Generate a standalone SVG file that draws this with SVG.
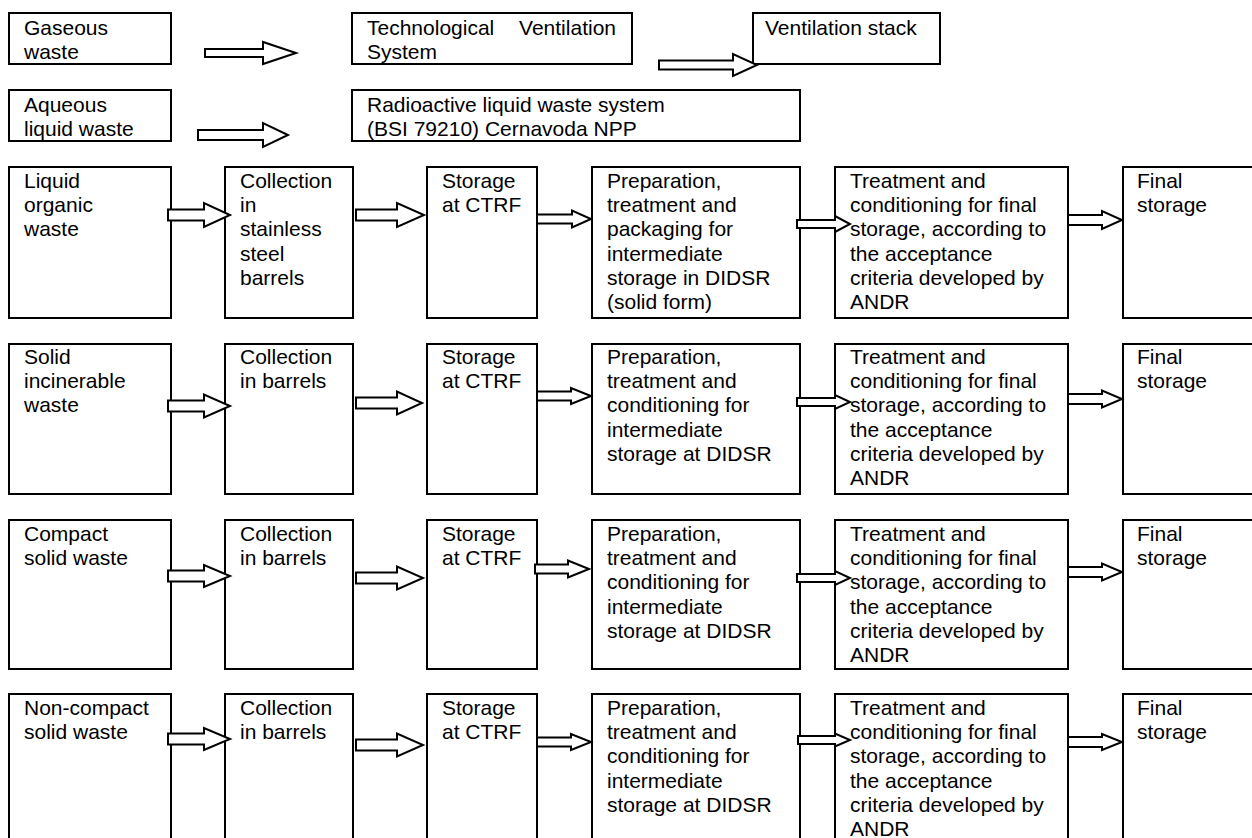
<svg xmlns="http://www.w3.org/2000/svg" width="1252" height="838" viewBox="0 0 1252 838">
<style>
.box{fill:#fff;stroke:#000;stroke-width:2}
.t{font-family:"Liberation Sans",Arial,sans-serif;font-size:21px;fill:#000}
.arr{fill:#fff;stroke:#000;stroke-width:2;stroke-linejoin:miter}
</style>
<rect width="1252" height="838" fill="#fff"/>
<g id="gaseous"><rect class="box" x="9" y="13" width="162" height="51"/><text class="t" x="24" y="35">Gaseous<tspan x="24" dy="24">waste</tspan></text></g>
<g id="tvs"><rect class="box" x="352" y="13" width="280" height="51"/><text class="t" x="367" y="35">Technological</text><text class="t" x="616" y="35" text-anchor="end">Ventilation</text><text class="t" x="367" y="59">System</text></g>
<g id="stack"><rect class="box" x="753" y="13" width="187" height="51"/><text class="t" x="765" y="35">Ventilation stack</text></g>
<g id="aqueous"><rect class="box" x="9" y="90" width="162" height="51"/><text class="t" x="24" y="112">Aqueous<tspan x="24" dy="24">liquid waste</tspan></text></g>
<g id="rlws"><rect class="box" x="352" y="90" width="448" height="51"/><text class="t" x="367" y="112">Radioactive liquid waste system<tspan x="367" dy="24">(BSI 79210) Cernavoda NPP</tspan></text></g>

<!-- Row 1 -->
<g id="r1c1"><rect class="box" x="9" y="167" width="162" height="151"/><text class="t" x="24" y="188">Liquid<tspan x="24" dy="24.2">organic</tspan><tspan x="24" dy="24.2">waste</tspan></text></g>
<g id="r1c2"><rect class="box" x="225" y="167" width="128" height="151"/><text class="t" x="240" y="188">Collection<tspan x="240" dy="24.2">in</tspan><tspan x="240" dy="24.2">stainless</tspan><tspan x="240" dy="24.2">steel</tspan><tspan x="240" dy="24.2">barrels</tspan></text></g>
<g id="r1c3"><rect class="box" x="427" y="167" width="110" height="151"/><text class="t" x="442" y="188">Storage<tspan x="442" dy="24.2">at CTRF</tspan></text></g>
<g id="r1c4"><rect class="box" x="592" y="167" width="208" height="151"/><text class="t" x="607" y="188">Preparation,<tspan x="607" dy="24.2">treatment and</tspan><tspan x="607" dy="24.2">packaging for</tspan><tspan x="607" dy="24.2">intermediate</tspan><tspan x="607" dy="24.2">storage in DIDSR</tspan><tspan x="607" dy="24.2">(solid form)</tspan></text></g>
<g id="r1c5"><rect class="box" x="835" y="167" width="233" height="151"/><text class="t" x="850" y="188">Treatment and<tspan x="850" dy="24.2">conditioning for final</tspan><tspan x="850" dy="24.2">storage, according to</tspan><tspan x="850" dy="24.2">the acceptance</tspan><tspan x="850" dy="24.2">criteria developed by</tspan><tspan x="850" dy="24.2">ANDR</tspan></text></g>
<g id="r1c6"><rect class="box" x="1123" y="167" width="140" height="151"/><text class="t" x="1137" y="188">Final<tspan x="1137" dy="24.2">storage</tspan></text></g>

<!-- Row 2 -->
<g id="r2c1"><rect class="box" x="9" y="344" width="162" height="150"/><text class="t" x="24" y="364">Solid<tspan x="24" dy="24.2">incinerable</tspan><tspan x="24" dy="24.2">waste</tspan></text></g>
<g id="r2c2"><rect class="box" x="225" y="344" width="128" height="150"/><text class="t" x="240" y="364">Collection<tspan x="240" dy="24.2">in barrels</tspan></text></g>
<g id="r2c3"><rect class="box" x="427" y="344" width="110" height="150"/><text class="t" x="442" y="364">Storage<tspan x="442" dy="24.2">at CTRF</tspan></text></g>
<g id="r2c4"><rect class="box" x="592" y="344" width="208" height="150"/><text class="t" x="607" y="364">Preparation,<tspan x="607" dy="24.2">treatment and</tspan><tspan x="607" dy="24.2">conditioning for</tspan><tspan x="607" dy="24.2">intermediate</tspan><tspan x="607" dy="24.2">storage at DIDSR</tspan></text></g>
<g id="r2c5"><rect class="box" x="835" y="344" width="233" height="150"/><text class="t" x="850" y="364">Treatment and<tspan x="850" dy="24.2">conditioning for final</tspan><tspan x="850" dy="24.2">storage, according to</tspan><tspan x="850" dy="24.2">the acceptance</tspan><tspan x="850" dy="24.2">criteria developed by</tspan><tspan x="850" dy="24.2">ANDR</tspan></text></g>
<g id="r2c6"><rect class="box" x="1123" y="344" width="140" height="150"/><text class="t" x="1137" y="364">Final<tspan x="1137" dy="24.2">storage</tspan></text></g>

<!-- Row 3 -->
<g id="r3c1"><rect class="box" x="9" y="520" width="162" height="149"/><text class="t" x="24" y="541">Compact<tspan x="24" dy="24.2">solid waste</tspan></text></g>
<g id="r3c2"><rect class="box" x="225" y="520" width="128" height="149"/><text class="t" x="240" y="541">Collection<tspan x="240" dy="24.2">in barrels</tspan></text></g>
<g id="r3c3"><rect class="box" x="427" y="520" width="110" height="149"/><text class="t" x="442" y="541">Storage<tspan x="442" dy="24.2">at CTRF</tspan></text></g>
<g id="r3c4"><rect class="box" x="592" y="520" width="208" height="149"/><text class="t" x="607" y="541">Preparation,<tspan x="607" dy="24.2">treatment and</tspan><tspan x="607" dy="24.2">conditioning for</tspan><tspan x="607" dy="24.2">intermediate</tspan><tspan x="607" dy="24.2">storage at DIDSR</tspan></text></g>
<g id="r3c5"><rect class="box" x="835" y="520" width="233" height="149"/><text class="t" x="850" y="541">Treatment and<tspan x="850" dy="24.2">conditioning for final</tspan><tspan x="850" dy="24.2">storage, according to</tspan><tspan x="850" dy="24.2">the acceptance</tspan><tspan x="850" dy="24.2">criteria developed by</tspan><tspan x="850" dy="24.2">ANDR</tspan></text></g>
<g id="r3c6"><rect class="box" x="1123" y="520" width="140" height="149"/><text class="t" x="1137" y="541">Final<tspan x="1137" dy="24.2">storage</tspan></text></g>

<!-- Row 4 -->
<g id="r4c1"><rect class="box" x="9" y="694" width="162" height="160"/><text class="t" x="24" y="715">Non-compact<tspan x="24" dy="24.2">solid waste</tspan></text></g>
<g id="r4c2"><rect class="box" x="225" y="694" width="128" height="160"/><text class="t" x="240" y="715">Collection<tspan x="240" dy="24.2">in barrels</tspan></text></g>
<g id="r4c3"><rect class="box" x="427" y="694" width="110" height="160"/><text class="t" x="442" y="715">Storage<tspan x="442" dy="24.2">at CTRF</tspan></text></g>
<g id="r4c4"><rect class="box" x="592" y="694" width="208" height="160"/><text class="t" x="607" y="715">Preparation,<tspan x="607" dy="24.2">treatment and</tspan><tspan x="607" dy="24.2">conditioning for</tspan><tspan x="607" dy="24.2">intermediate</tspan><tspan x="607" dy="24.2">storage at DIDSR</tspan></text></g>
<g id="r4c5"><rect class="box" x="835" y="694" width="233" height="160"/><text class="t" x="850" y="715">Treatment and<tspan x="850" dy="24.2">conditioning for final</tspan><tspan x="850" dy="24.2">storage, according to</tspan><tspan x="850" dy="24.2">the acceptance</tspan><tspan x="850" dy="24.2">criteria developed by</tspan><tspan x="850" dy="24.2">ANDR</tspan></text></g>
<g id="r4c6"><rect class="box" x="1123" y="694" width="140" height="160"/><text class="t" x="1137" y="715">Final<tspan x="1137" dy="24.2">storage</tspan></text></g>

<g id="connectors">
<polygon class="arr" points="205,49 263,49 263,42 296,53 263,64 263,57 205,57"/>
<polygon class="arr" points="659,60.5 733,60.5 733,54 757,65 733,76 733,69.5 659,69.5"/>
<polygon class="arr" points="198,130 263,130 263,123 288,135 263,147 263,140 198,140"/>

<polygon class="arr" points="168,209.5 204,209.5 204,203 230,215 204,227 204,220.5 168,220.5"/>
<polygon class="arr" points="356,209.5 397,209.5 397,203 424,215 397,227 397,220.5 356,220.5"/>
<polygon class="arr" points="537,214.5 572,214.5 572,210.5 591,219 572,227.5 572,223.5 537,223.5"/>
<polygon class="arr" points="797,220 835,220 835,216 850,224 835,232 835,228 797,228"/>
<polygon class="arr" points="1068,215 1102,215 1102,211 1122,220 1102,229 1102,225 1068,225"/>

<polygon class="arr" points="168,400.5 204,400.5 204,394.5 230,406 204,417.5 204,411.5 168,411.5"/>
<polygon class="arr" points="356,397.5 397,397.5 397,391.5 422,403 397,414.5 397,408.5 356,408.5"/>
<polygon class="arr" points="537,391.5 571,391.5 571,388 591,396 571,404 571,400.5 537,400.5"/>
<polygon class="arr" points="797,398 835,398 835,395 850,402 835,409 835,406 797,406"/>
<polygon class="arr" points="1068,394 1102,394 1102,390.5 1122,399 1102,407.5 1102,404 1068,404"/>

<polygon class="arr" points="168,570.5 204,570.5 204,565 230,576 204,587 204,581.5 168,581.5"/>
<polygon class="arr" points="356,572.5 397,572.5 397,566.5 423,578 397,589.5 397,583.5 356,583.5"/>
<polygon class="arr" points="535,564.5 568,564.5 568,560.5 589,569 568,577.5 568,573.5 535,573.5"/>
<polygon class="arr" points="797,574 835,574 835,571 850,578 835,585 835,582 797,582"/>
<polygon class="arr" points="1068,567 1102,567 1102,563.5 1122,572 1102,580.5 1102,577 1068,577"/>

<polygon class="arr" points="168,733.5 204,733.5 204,728 230,739 204,750 204,744.5 168,744.5"/>
<polygon class="arr" points="356,739.5 397,739.5 397,733.5 423,745 397,756.5 397,750.5 356,750.5"/>
<polygon class="arr" points="537,737.5 571,737.5 571,734 591,742 571,750 571,746.5 537,746.5"/>
<polygon class="arr" points="798,736 835,736 835,733.5 850,740 835,746.5 835,744 798,744"/>
<polygon class="arr" points="1068,737 1102,737 1102,734 1122,742 1102,750 1102,747 1068,747"/>
</g>
</svg>
